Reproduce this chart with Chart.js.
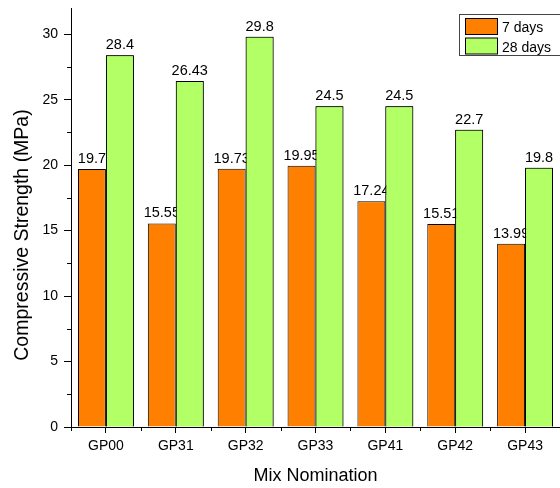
<!DOCTYPE html>
<html>
<head>
<meta charset="utf-8">
<script src="https://cdn.jsdelivr.net/npm/chart.js@4/dist/chart.umd.min.js"></script>
<style>
  html, body { margin: 0; padding: 0; background: #fff; overflow: hidden; }
  #wrap { width: 560px; height: 488px; }
</style>
</head>
<body>
<div id="wrap"><canvas id="graficoResistencia"></canvas></div>
<script>
const misturas = ["GP00", "GP31", "GP32", "GP33", "GP41", "GP42", "GP43"];
const dias7 = [19.7, 15.55, 19.73, 19.95, 17.24, 15.51, 13.99];
const dias28 = [28.4, 26.43, 29.8, 24.5, 24.5, 22.7, 19.8];
const rotulos7 = ["19.7", "15.55", "19.73", "19.95", "17.24", "15.51", "13.99"];
const rotulos28 = ["28.4", "26.43", "29.8", "24.5", "24.5", "22.7", "19.8"];
const tituloY = "Compressive Strength (MPa)";

const fonte = "'Liberation Sans', Arial, sans-serif";

function desenharRotulos(chart, idx, textos) {
  const ctx = chart.ctx;
  const meta = chart.getDatasetMeta(idx);
  ctx.save();
  ctx.font = "14.5px " + fonte;
  ctx.fillStyle = "#000";
  ctx.textAlign = "center";
  ctx.textBaseline = "alphabetic";
  meta.data.forEach((bar, i) => {
    ctx.fillText(textos[i], bar.x, bar.y - 6);
  });
  ctx.restore();
}

// value labels: orange labels get partly hidden by the green bars, like the original
const pluginRotulos = {
  id: "rotulos",
  afterDatasetsDraw(chart) {
    desenharRotulos(chart, 0, rotulos7);
    chart.getDatasetMeta(1).controller.draw();
    desenharRotulos(chart, 1, rotulos28);
  },
  afterDraw(chart) {
    const ctx = chart.ctx;
    const y = chart.scales.y;
    const x = chart.scales.x;
    ctx.save();
    ctx.strokeStyle = "#000";
    ctx.lineWidth = 1;
    ctx.beginPath();
    // minor ticks on y
    for (let v = 2.5; v < 32; v += 5) {
      const py = Math.round(y.getPixelForValue(v)) + 0.5;
      ctx.moveTo(x.left - 4, py);
      ctx.lineTo(x.left, py);
    }
    // minor ticks on x, between categories
    const passo = (x.right - x.left) / misturas.length;
    for (let k = 0; k <= misturas.length; k++) {
      const px = Math.round(x.left + k * passo) + 0.5;
      ctx.moveTo(px, y.bottom);
      ctx.lineTo(px, y.bottom + 4);
    }
    ctx.stroke();

    // y title (sits a bit below the middle of the axis in the original)
    ctx.save();
    ctx.translate(23, 235);
    ctx.rotate(-Math.PI / 2);
    ctx.font = "19.5px " + fonte;
    ctx.fillStyle = "#000";
    ctx.textAlign = "center";
    ctx.textBaseline = "middle";
    ctx.fillText(tituloY, 0, 0);
    ctx.restore();

    // legend
    const lx = 459.5, ly = 14.5;
    ctx.strokeStyle = "#444";
    ctx.strokeRect(lx, ly, 110, 41);
    const itens = chart.data.datasets;
    ctx.font = "14px " + fonte;
    ctx.textBaseline = "alphabetic";
    ctx.textAlign = "left";
    itens.forEach((ds, i) => {
      const sy = 18.5 + i * 19.5;
      ctx.fillStyle = ds.backgroundColor;
      ctx.fillRect(465.5, sy, 32, 16);
      ctx.strokeStyle = "#000";
      ctx.strokeRect(465.5, sy, 32, 16);
      ctx.fillStyle = "#000";
      ctx.fillText(ds.label, 502, sy + 13.5);
    });
    ctx.restore();
  }
};

new Chart(document.getElementById("graficoResistencia"), {
  type: "bar",
  data: {
    labels: misturas,
    datasets: [
      {
        label: "7 days",
        data: dias7,
        backgroundColor: "#FF8000",
        borderColor: "#000",
        borderWidth: 1,
        categoryPercentage: 0.8,
        barPercentage: 1.0,
      },
      {
        label: "28 days",
        data: dias28,
        backgroundColor: "#B3FF66",
        borderColor: "#000",
        borderWidth: 1,
        categoryPercentage: 0.8,
        barPercentage: 1.0,
      },
    ],
  },
  options: {
    responsive: true,
    maintainAspectRatio: false,
    animation: false,
    layout: { padding: { top: 8, left: 0, right: 0, bottom: 0 } },
    plugins: {
      legend: { display: false },
      tooltip: { enabled: false },
    },
    scales: {
      x: {
        afterFit(s) { s.height = 61; },
        grid: {
          display: true,
          offset: false,
          drawOnChartArea: false,
          drawTicks: true,
          tickLength: 6,
          tickColor: "#000",
        },
        border: { display: true, color: "#000", width: 1 },
        ticks: {
          color: "#000",
          font: { family: fonte, size: 14 },
          padding: 5,
          maxRotation: 0,
        },
        title: {
          display: true,
          text: "Mix Nomination",
          color: "#000",
          font: { family: fonte, size: 18 },
          padding: { top: 0, bottom: 1 },
        },
      },
      y: {
        min: 0,
        max: 32,
        afterFit(s) {
          s.width = 71;
          s.paddingTop = 0;
          s.paddingBottom = 0;
        },
        afterBuildTicks(s) { s.ticks = s.ticks.filter((t) => t.value % 5 === 0); },
        grid: {
          display: true,
          drawOnChartArea: false,
          drawTicks: true,
          tickLength: 7,
          tickColor: "#000",
        },
        border: { display: true, color: "#000", width: 1 },
        ticks: {
          stepSize: 5,
          color: "#000",
          font: { family: fonte, size: 14 },
          padding: 6,
        },
        title: { display: false },
      },
    },
  },
  plugins: [pluginRotulos],
});
</script>
</body>
</html>
